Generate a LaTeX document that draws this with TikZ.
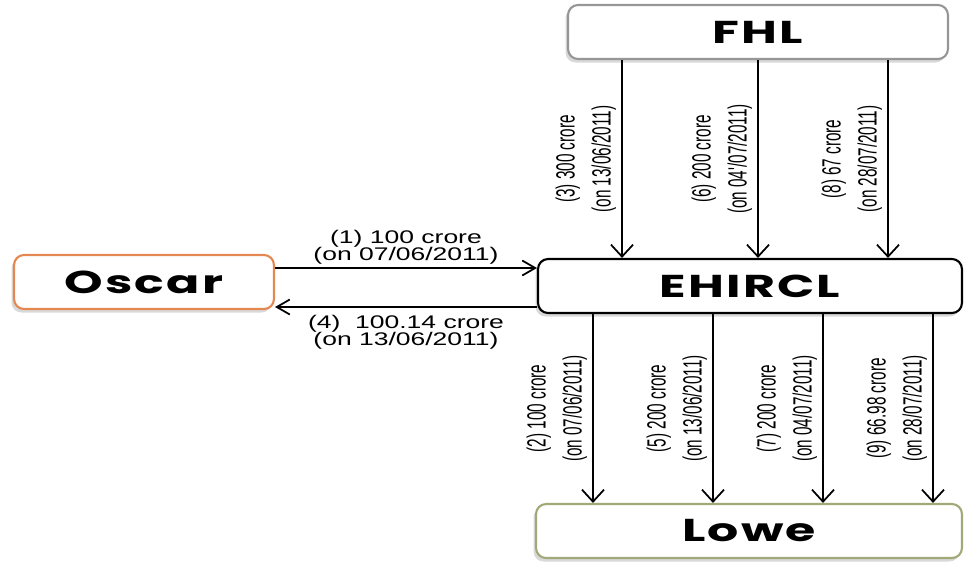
\documentclass[tikz,border=0pt]{standalone}
\usepackage{fontspec}
\setmainfont{Liberation Sans}
\newfontfamily\hlabfont{Liberation Sans}[FakeStretch=1.45]
\newfontfamily\vlabfont{Liberation Sans}[FakeStretch=0.58]
\newfontfamily\boxfont{Poppins}[FakeStretch=1.55,LetterSpace=7]
\usetikzlibrary{arrows.meta,shadows}
\definecolor{fhlgray}{RGB}{150,150,150}
\definecolor{oscarorange}{RGB}{228,135,80}
\definecolor{loweolive}{RGB}{160,170,120}
\tikzset{
  box/.style={draw, line width=1.2pt, rounded corners=0.2cm, fill=white,
    minimum height=1.08cm, inner sep=0pt,
    font=\boxfont\bfseries\fontsize{18}{20}\selectfont,
    drop shadow={shadow xshift=-0.05cm, shadow yshift=-0.07cm, opacity=0.3, fill=gray}},
  flow/.style={line width=1pt, -{Straight Barb[length=2.4mm, width=4.4mm, line width=1pt]}},
  hflow/.style={line width=1pt, -{Straight Barb[length=2.6mm, width=3mm, line width=1pt]}},
  vlab/.style={midway, rotate=90, anchor=south, align=center, inner sep=1mm,
    font=\vlabfont\fontsize{15}{20.5}\selectfont},
  hlab/.style={midway, align=center, inner sep=1.5pt,
    font=\hlabfont\fontsize{10.4}{10}\selectfont}
}
\begin{document}
\begin{tikzpicture}[x=0.02cm, y=-0.02cm]
\useasboundingbox (0,0) rectangle (964,562);

\node[box, draw=fhlgray, minimum width=7.6cm] (FHL) at (758,32) {FHL};
\node[box, draw=oscarorange, minimum width=5.2cm] (Oscar) at (144,282) {Oscar};
\node[box, minimum width=8.48cm] (EHIRCL) at (750,286) {EHIRCL};
\node[box, draw=loweolive, minimum width=8.52cm] (Lowe) at (749,531) {Lowe};

\coordinate (h1) at (0,268);
\coordinate (h4) at (0,307);
\draw[hflow] (Oscar.east |- h1) -- node[hlab, above]{(1) 100 crore\\(on 07/06/2011)} (EHIRCL.west |- h1);
\draw[hflow] (EHIRCL.west |- h4) -- node[hlab, below, inner sep=4pt]{(4)\ \ 100.14 crore\\(on 13/06/2011)} (Oscar.east |- h4);

\foreach \x/\first/\second in {622/{(3) 300 crore}/{(on 13/06/2011)},
    758/{(6) 200 crore}/{(on 04'/07/2011)}, 888/{(8) 67 crore}/{(on 28/07/2011)}}{
  \coordinate (in\x) at (\x,0);
  \draw[flow] (FHL.south -| in\x) -- node[vlab]{\first\\\second} (EHIRCL.north -| in\x);
}
\foreach \x/\first/\second in {593/{(2) 100 crore}/{(on 07/06/2011)},
    713/{(5) 200 crore}/{(on 13/06/2011)}, 823/{(7) 200 crore}/{(on 04/07/2011)},
    933/{(9) 66.98 crore}/{(on 28/07/2011)}}{
  \coordinate (out\x) at (\x,0);
  \draw[flow] (EHIRCL.south -| out\x) -- node[vlab]{\first\\\second} (Lowe.north -| out\x);
}
\end{tikzpicture}
\end{document}
